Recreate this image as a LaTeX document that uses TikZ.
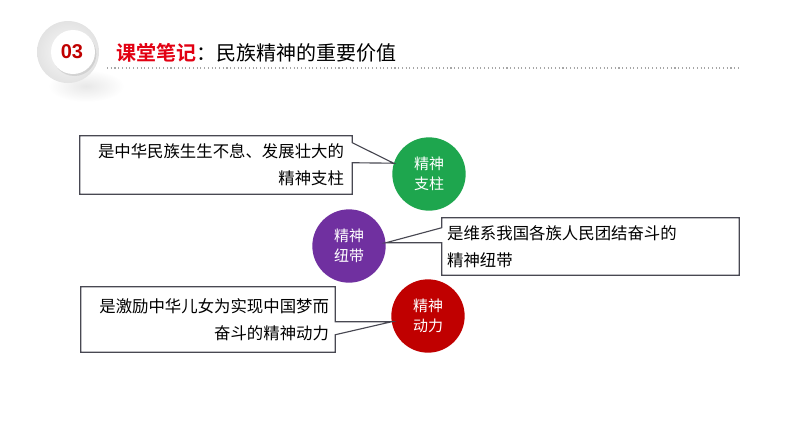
\documentclass[tikz,border=0pt]{standalone}
\usepackage{fontspec}
\setmainfont{Noto Sans CJK SC}[BoldFont={Noto Sans CJK SC Bold}]
\newfontfamily\numfont{Liberation Sans}
\usetikzlibrary{calc, shadows}

\definecolor{pillarGreen}{RGB}{30,166,78}
\definecolor{bondPurple}{RGB}{112,48,160}
\definecolor{driveRed}{RGB}{192,0,0}
\definecolor{titleRed}{RGB}{226,0,18}
\definecolor{boxLine}{RGB}{72,72,82}

\begin{document}
\begin{tikzpicture}[x=.75pt, y=-.75pt]
    \tikzstyle{spirit} = [circle, minimum size=55pt, inner sep=0pt, text=white, align=center, font=\fontsize{11.25pt}{15pt}\selectfont]
    \tikzstyle{remark} = [inner ysep=0pt, font=\fontsize{12.3pt}{20.5pt}\selectfont]
    \tikzstyle{outline} = [draw=boxLine, line width=.85pt, line join=miter]

    \useasboundingbox (0,0) rectangle (794,447);

    % Header ----------------------------------------
    \shade[inner color=gray!18, outer color=white] (86,86) ellipse (38 and 16);
    \shade[inner color=gray!4, outer color=gray!22] (68,52) circle (31);
    \fill[white, drop shadow={opacity=.2, shadow xshift=1pt, shadow yshift=-1.5pt}] (73,52) circle (22);
    \node (mark) at (72,52) {\numfont\bfseries\fontsize{15pt}{15pt}\selectfont\color{driveRed}03};

    \node (title) at (116,53) [anchor=west, inner sep=0pt, font=\fontsize{15pt}{15pt}\selectfont]
        {{\color{titleRed}\bfseries 课堂笔记}：民族精神的重要价值};
    \draw[dotted, gray!70, line width=.8pt] (107,68) -- (740,68);
    % ---------------------------------------------------

    % Spirit circles
    \node (pillar) at (429,174) [spirit, fill=pillarGreen] {精神\\支柱};
    \node (bond) at (349,246) [spirit, fill=bondPurple] {精神\\纽带};
    \node (drive) at (428,316) [spirit, fill=driveRed] {精神\\动力};

    % Remarks
    \node (box1) at (216,165) [remark, text width=192pt, inner xsep=6pt, minimum height=43.5pt, align=right]
        {是中华民族生生不息、发展壮大的\\精神支柱};
    \node (box2) at (590.5,246.5) [remark, text width=215pt, inner xsep=3.9pt, minimum height=42.75pt, align=left]
        {是维系我国各族人民团结奋斗的\\精神纽带};
    \node (box3) at (208,319.5) [remark, text width=181.5pt, inner xsep=4.5pt, minimum height=48.75pt, align=right]
        {是激励中华儿女为实现中国梦而\\奋斗的精神动力};

    % Callout outlines
    \draw[outline] (box1.north west) -- (box1.north east) -- ($(box1.north east)+(0,7)$) --
        (pillar.163) -- ($(box1.north east)+(0,27)$) -- (box1.south east) -- (box1.south west) -- cycle;
    \draw[outline] (box2.north west) -- (box2.north east) -- (box2.south east) -- (box2.south west) --
        ($(box2.north west)+(0,25)$) -- (bond.5) -- ($(box2.north west)+(0,10)$) -- cycle;
    \draw[outline] (box3.north west) -- (box3.north east) -- ($(box3.north east)+(0,35)$) --
        (drive.189) -- ($(box3.north east)+(0,48)$) -- (box3.south east) -- (box3.south west) -- cycle;
\end{tikzpicture}
\end{document}
